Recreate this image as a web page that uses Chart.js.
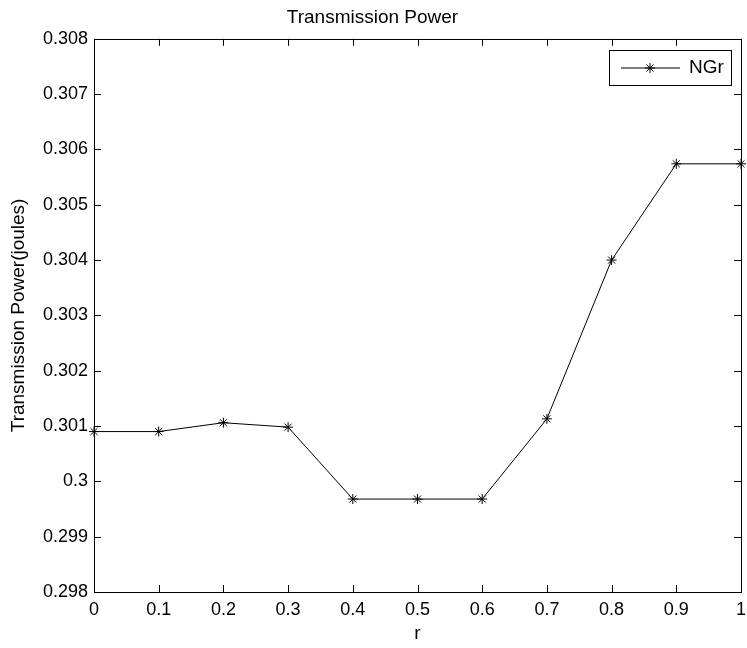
<!DOCTYPE html>
<html>
<head>
<meta charset="utf-8">
<script src="https://cdn.jsdelivr.net/npm/chart.js@4.4.0/dist/chart.umd.min.js"></script>
<style>
html, body { margin: 0; padding: 0; background: #fff; }
</style>
</head>
<body>
<canvas id="graph" width="747" height="648"></canvas>
<script>
// values
const rValues = [0, 0.1, 0.2, 0.3, 0.4, 0.5, 0.6, 0.7, 0.8, 0.9, 1];
const powerValues = [0.30090, 0.30090, 0.30106, 0.30098, 0.29968, 0.29968, 0.29968, 0.30113, 0.30400, 0.30574, 0.30574];
const xTicks = [0, 0.1, 0.2, 0.3, 0.4, 0.5, 0.6, 0.7, 0.8, 0.9, 1];
const xTickLabels = ['0', '0.1', '0.2', '0.3', '0.4', '0.5', '0.6', '0.7', '0.8', '0.9', '1'];
const yTicks = [0.298, 0.299, 0.300, 0.301, 0.302, 0.303, 0.304, 0.305, 0.306, 0.307, 0.308];
const yTickLabels = ['0.298', '0.299', '0.3', '0.301', '0.302', '0.303', '0.304', '0.305', '0.306', '0.307', '0.308'];

const fontFamily = "'Liberation Sans', Arial, sans-serif";
const canvas = document.getElementById('graph');
const ctx = canvas.getContext('2d');

// matlab style box with inward ticks + legend box
const matlabBox = {
    id: 'matlabBox',
    afterDatasetsDraw(chart) {
        const c = chart.ctx;
        const a = chart.chartArea;
        const x = chart.scales.x;
        const y = chart.scales.y;
        const tl = 7;
        c.save();
        c.strokeStyle = '#000';
        c.lineWidth = 1;
        c.beginPath();
        xTicks.forEach(v => {
            const px = Math.round(x.getPixelForValue(v)) + 0.5;
            c.moveTo(px, a.bottom); c.lineTo(px, a.bottom - tl);
            c.moveTo(px, a.top); c.lineTo(px, a.top + tl);
        });
        yTicks.forEach(v => {
            const py = Math.round(y.getPixelForValue(v)) + 0.5;
            c.moveTo(a.left, py); c.lineTo(a.left + tl, py);
            c.moveTo(a.right, py); c.lineTo(a.right - tl, py);
        });
        c.stroke();
        c.strokeRect(Math.round(a.left) + 0.5, Math.round(a.top) + 0.5,
            Math.round(a.right - a.left), Math.round(a.bottom - a.top));

        // legend
        const ds = chart.data.datasets[0];
        const bx = 609, by = 50, bw = 122, bh = 35;
        c.fillStyle = '#fff';
        c.fillRect(bx, by, bw, bh);
        c.strokeRect(bx + 0.5, by + 0.5, bw, bh);
        const ly = by + bh / 2 + 0.5;
        c.strokeStyle = ds.borderColor;
        c.beginPath();
        c.moveTo(bx + 12, ly); c.lineTo(bx + 71, ly);
        c.stroke();
        Chart.helpers.drawPoint(c, { pointStyle: 'star', radius: 5, rotation: 0, borderWidth: 1 }, bx + 41, ly);
        c.fillStyle = '#000';
        c.font = '19px ' + fontFamily;
        c.textBaseline = 'middle';
        c.textAlign = 'left';
        c.fillText(ds.label, bx + 80, ly);
        c.restore();
    }
};

const chartx = new Chart(ctx, {
    type: 'line',
    data: {
        labels: rValues,
        datasets: [{
            label: 'NGr',
            data: rValues.map((r, i) => ({ x: r, y: powerValues[i] })),
            borderColor: '#000',
            borderWidth: 1,
            backgroundColor: '#000',
            pointStyle: 'star',
            pointRadius: 5,
            pointBorderWidth: 1,
            pointBorderColor: '#000',
            tension: 0,
            clip: false,
        }],
    },
    options: {
        responsive: false,
        animation: false,
        events: [],
        layout: { padding: { left: 0, right: 2, top: 0, bottom: 0 } },
        plugins: {
            legend: { display: false },
            tooltip: { enabled: false },
            title: {
                display: true,
                text: 'Transmission Power',
                color: '#000',
                font: { family: fontFamily, size: 19, weight: 'normal' },
                padding: { top: 6, bottom: 10 },
            },
        },
        scales: {
            x: {
                type: 'linear',
                min: 0,
                max: 1,
                grid: { display: false, drawTicks: false },
                border: { display: false },
                afterBuildTicks: scale => { scale.ticks = xTicks.map(v => ({ value: v })); },
                ticks: {
                    color: '#000',
                    padding: 7,
                    maxRotation: 0,
                    autoSkip: false,
                    font: { family: fontFamily, size: 18 },
                    callback: (v, i) => xTickLabels[i],
                },
                title: {
                    display: true,
                    text: 'r',
                    color: '#000',
                    font: { family: fontFamily, size: 19 },
                    padding: { top: 0, bottom: 3 },
                },
                afterFit: scale => {
                    scale.height = 56;
                    scale.paddingLeft = 0;
                    scale.paddingRight = 0;
                },
            },
            y: {
                type: 'linear',
                min: 0.298,
                max: 0.308,
                grid: { display: false, drawTicks: false },
                border: { display: false },
                afterBuildTicks: scale => { scale.ticks = yTicks.map(v => ({ value: v })); },
                ticks: {
                    color: '#000',
                    padding: 6,
                    autoSkip: false,
                    font: { family: fontFamily, size: 18 },
                    callback: (v, i) => yTickLabels[i],
                },
                title: {
                    display: true,
                    text: 'Transmission Power(joules)',
                    color: '#000',
                    font: { family: fontFamily, size: 19 },
                    padding: { top: 7, bottom: 0 },
                },
                afterFit: scale => {
                    scale.width = 94;
                    scale.paddingTop = 0;
                    scale.paddingBottom = 0;
                },
            },
        },
    },
    plugins: [matlabBox],
});
</script>
</body>
</html>
